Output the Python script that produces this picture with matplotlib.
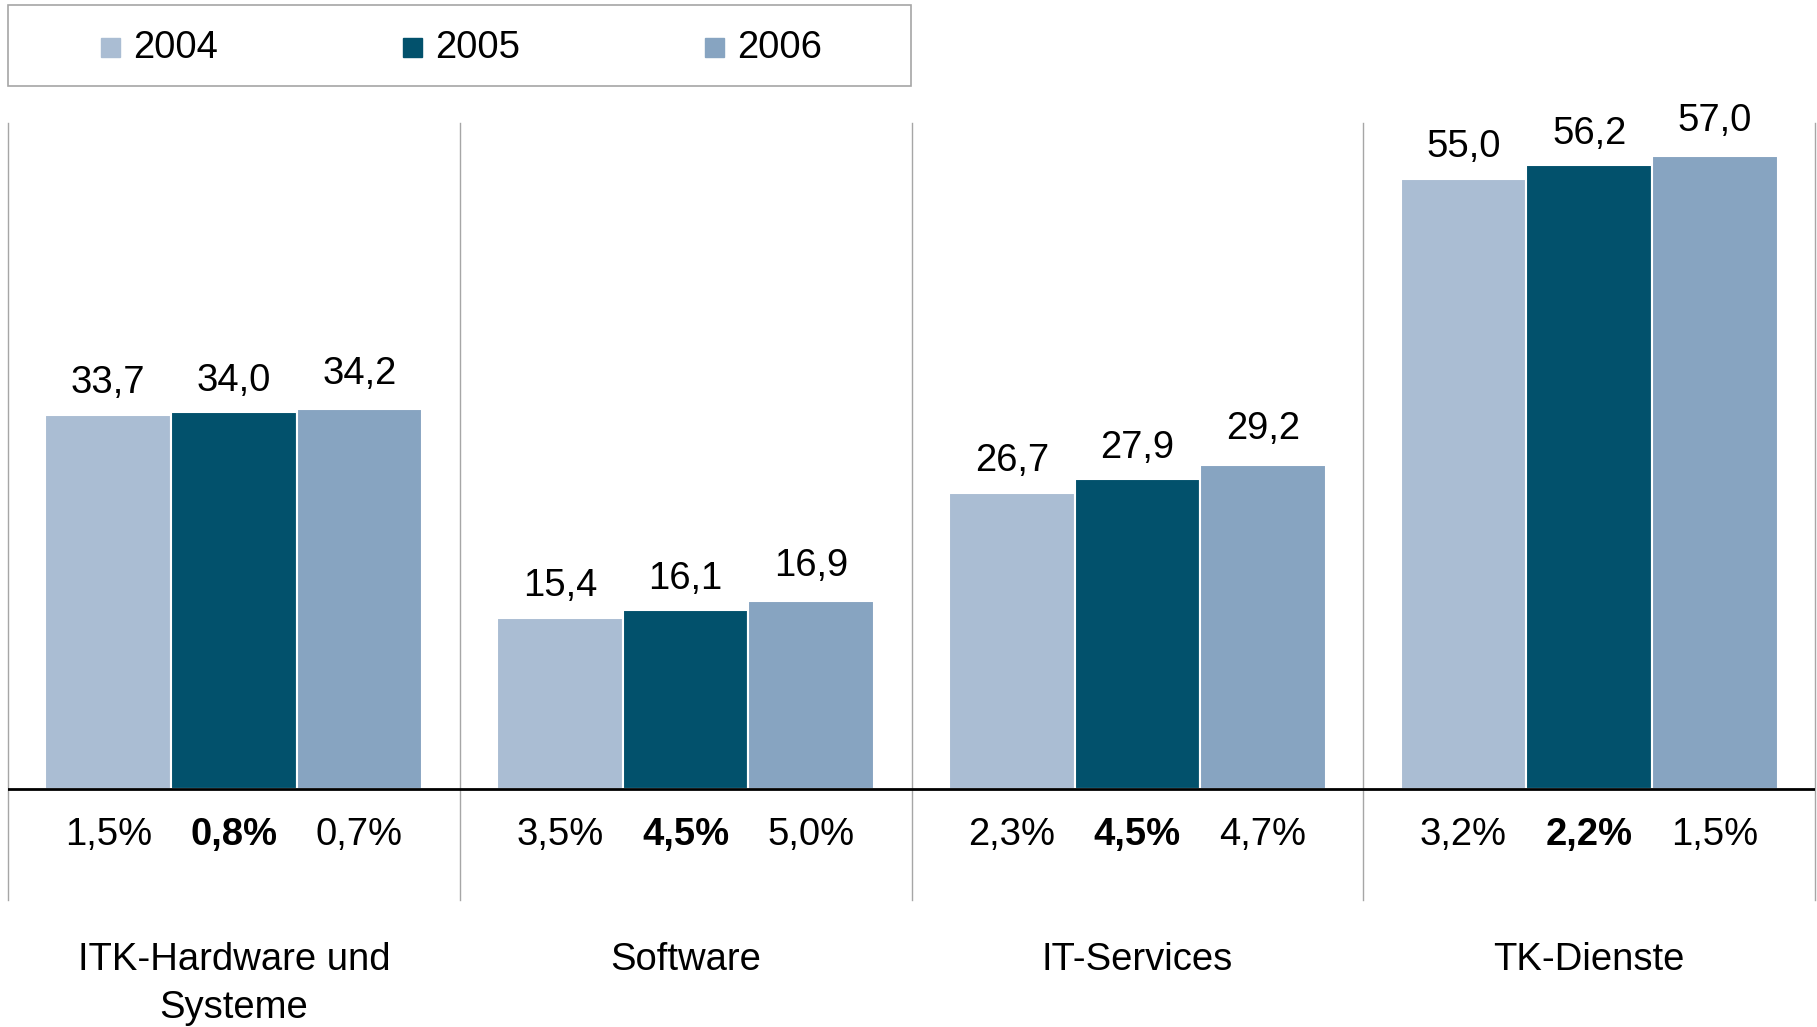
import matplotlib.pyplot as plt
from matplotlib.patches import Rectangle
import numpy as np

plt.rcParams['font.family'] = ['Liberation Sans', 'DejaVu Sans']

categories = ["ITK-Hardware und\nSysteme", "Software", "IT-Services", "TK-Dienste"]
years = ["2004", "2005", "2006"]
values = {
    "2004": [33.7, 15.4, 26.7, 55.0],
    "2005": [34.0, 16.1, 27.9, 56.2],
    "2006": [34.2, 16.9, 29.2, 57.0],
}
growth = {
    "2004": ["1,5%", "3,5%", "2,3%", "3,2%"],
    "2005": ["0,8%", "4,5%", "4,5%", "2,2%"],
    "2006": ["0,7%", "5,0%", "4,7%", "1,5%"],
}
colors = ["#AABDD3", "#02516C", "#87A4C1"]
label_gap = [1.95, 1.9, 2.3]  # space between bar top and value label, per series

W, H = 1817, 1027
fig = plt.figure(figsize=(W / 100, H / 100), dpi=100)
ax = fig.add_axes([8 / W, 1 - 900 / H, 1807 / W, 777 / H])

x = np.arange(len(categories)) + 0.5
bw = 0.278
fs = 27.5

for i, yr in enumerate(years):
    xs = x + (i - 1) * bw
    ax.bar(xs, values[yr], width=bw, color=colors[i], edgecolor='white', linewidth=1.5)
    for xi, v in zip(xs, values[yr]):
        ax.text(xi, v + label_gap[i], f"{v:.1f}".replace('.', ','), ha='center', va='baseline', fontsize=fs)
    for xi, g in zip(xs, growth[yr]):
        ax.text(xi, -4.1, g, ha='center', va='center', fontsize=fs,
                fontweight='bold' if yr == "2005" else 'normal')

for xi, c in zip(x, categories):
    ax.text(xi, -13.8, c, ha='center', va='top', fontsize=fs, linespacing=1.42, clip_on=False)

for b in range(len(categories) + 1):
    ax.axvline(b, color='#A6A6A6', lw=1, clip_on=False)
ax.axhline(0, color='black', lw=2)

ax.set_xlim(0, len(categories))
ax.set_ylim(-10, 60)
ax.axis('off')

# legend box
fig.add_artist(Rectangle((8 / W, 1 - 86 / H), 903 / W, 81 / H, transform=fig.transFigure,
                         fill=False, edgecolor='#A6A6A6', lw=1.2))
sq = 19
for i, yr in enumerate(years):
    mx = 110 + i * 302
    fig.add_artist(Rectangle(((mx - sq / 2) / W, 1 - (47 + sq / 2) / H), sq / W, sq / H,
                             transform=fig.transFigure, color=colors[i]))
    fig.text((mx + 23) / W, 1 - 48 / H, yr, fontsize=fs, va='center', ha='left')

fig.savefig("out.png", dpi=100)
